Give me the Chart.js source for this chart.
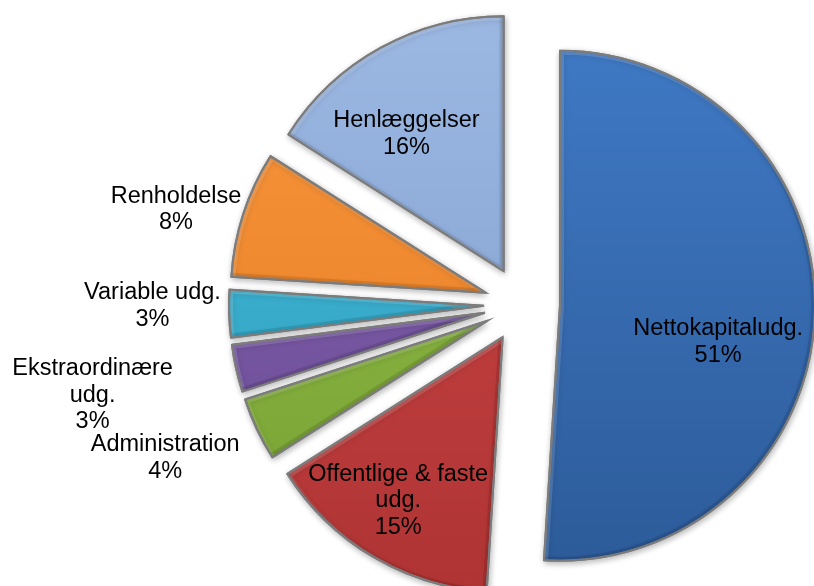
<!DOCTYPE html>
<html>
<head>
<meta charset="utf-8">
<title>Udgifter</title>
<script src="https://cdn.jsdelivr.net/npm/chart.js@4.4.1/dist/chart.umd.min.js"></script>
<style>
    html, body { margin: 0; padding: 0; background: #ffffff; }
    #wrap { width: 814px; height: 586px; }
</style>
</head>
<body>
<div id="wrap"><canvas id="pieChart" width="814" height="586"></canvas></div>
<script>
// Data (percent of total)
const categories = [
    ['Nettokapitaludg.'],
    ['Offentlige & faste', 'udg.'],
    ['Administration'],
    ['Ekstraordinære', 'udg.'],
    ['Variable udg.'],
    ['Renholdelse'],
    ['Henlæggelser']
];
const shares = [51, 15, 4, 3, 3, 8, 16];

// Slice colours: [light, dark] for the vertical gradient
const sliceColors = [
    ['#3f79c4', '#2c5a98'],
    ['#cc4646', '#b03434'],
    ['#94c04a', '#76a032'],
    ['#8462b0', '#684a92'],
    ['#44badb', '#2c9cba'],
    ['#f8953c', '#e47a20'],
    ['#9ab7e2', '#7e9bcb']
];

// Label placement: [angle nudge from slice bisector (deg), distance as share of radius]
const labelPlacement = [
    [10.6, 0.625],
    [2.9, 0.76],
    [2.6, 1.38],
    [1.1, 1.58],
    [2.1, 1.31],
    [-2.7, 1.27],
    [-6.8, 0.672]
];

const EXPLODE = 38;       // px each slice is pulled out
const RADIUS = 255;
const FONT = '23.5px "Liberation Sans", Arial, sans-serif';
const LINE_H = 26.5;

function sliceGradient(context) {
    const chart = context.chart;
    const area = chart.chartArea;
    const c = sliceColors[context.dataIndex];
    if (!area) return c[0];
    const g = chart.ctx.createLinearGradient(0, area.top + 20, 0, area.bottom);
    g.addColorStop(0, c[0]);
    g.addColorStop(1, c[1]);
    return g;
}

function slicePath(ctx, arc) {
    ctx.beginPath();
    ctx.moveTo(arc.x, arc.y);
    ctx.arc(arc.x, arc.y, arc.outerRadius, arc.startAngle, arc.endAngle);
    ctx.closePath();
}

// soft bevel: light band on upper-left edges, dark band on lower-right edges
function drawBevel(ctx, arc) {
    ctx.save();
    slicePath(ctx, arc);
    ctx.clip();
    ctx.lineJoin = 'round';
    ctx.lineWidth = 5;
    ctx.translate(1.5, 1.5);
    slicePath(ctx, arc);
    ctx.strokeStyle = 'rgba(255, 255, 255, 0.14)';
    ctx.stroke();
    ctx.translate(-3, -3);
    slicePath(ctx, arc);
    ctx.strokeStyle = 'rgba(0, 0, 0, 0.10)';
    ctx.stroke();
    ctx.restore();
}

// Pull every slice away from the centre along its bisector
const explodePlugin = {
    id: 'explode',
    afterDatasetsUpdate(chart) {
        const area = chart.chartArea;
        const cx = (area.left + area.right) / 2;
        const cy = (area.top + area.bottom) / 2;
        chart.getDatasetMeta(0).data.forEach(arc => {
            const mid = (arc.startAngle + arc.endAngle) / 2;
            arc.x = cx + Math.cos(mid) * EXPLODE;
            arc.y = cy + Math.sin(mid) * EXPLODE;
        });
    },
    beforeDatasetsDraw(chart) {
        const ctx = chart.ctx;
        ctx.save();
        ctx.shadowColor = 'rgba(0, 0, 0, 0.28)';
        ctx.shadowBlur = 6;
        ctx.shadowOffsetX = 1;
        ctx.shadowOffsetY = 2;
    },
    afterDatasetsDraw(chart) {
        const ctx = chart.ctx;
        ctx.restore();

        const arcs = chart.getDatasetMeta(0).data;
        arcs.forEach(arc => drawBevel(ctx, arc));
        // redraw the outlines on top of the bevel
        arcs.forEach(arc => {
            ctx.save();
            slicePath(ctx, arc);
            ctx.lineWidth = 2;
            ctx.strokeStyle = '#7c7c7c';
            ctx.stroke();
            ctx.restore();
        });

        const data = chart.data.datasets[0].data;
        const total = data.reduce((a, b) => a + b, 0);
        ctx.save();
        ctx.font = FONT;
        ctx.fillStyle = '#000000';
        ctx.textAlign = 'center';
        ctx.textBaseline = 'middle';
        arcs.forEach((arc, i) => {
            const lines = chart.data.labels[i].concat([Math.round(data[i] / total * 100) + '%']);
            const p = labelPlacement[i];
            const ang = (arc.startAngle + arc.endAngle) / 2 + p[0] * Math.PI / 180;
            const r = arc.outerRadius * p[1];
            const x = arc.x + Math.cos(ang) * r + 2.5;
            const y = arc.y + Math.sin(ang) * r - (lines.length - 1) * LINE_H / 2 + 2;
            lines.forEach((t, k) => ctx.fillText(t, x, y + k * LINE_H));
        });
        ctx.restore();
    }
};

new Chart(document.getElementById('pieChart'), {
    type: 'pie',
    data: {
        labels: categories,
        datasets: [{
            data: shares,
            backgroundColor: sliceGradient,
            borderColor: '#7c7c7c',
            borderWidth: 2,
            radius: RADIUS,
            clip: false
        }]
    },
    options: {
        responsive: false,
        animation: false,
        devicePixelRatio: 1,
        layout: { padding: { left: 230, right: 0, top: 23, bottom: 0 } },
        plugins: {
            legend: { display: false },
            tooltip: { enabled: false }
        }
    },
    plugins: [explodePlugin]
});
</script>
</body>
</html>
